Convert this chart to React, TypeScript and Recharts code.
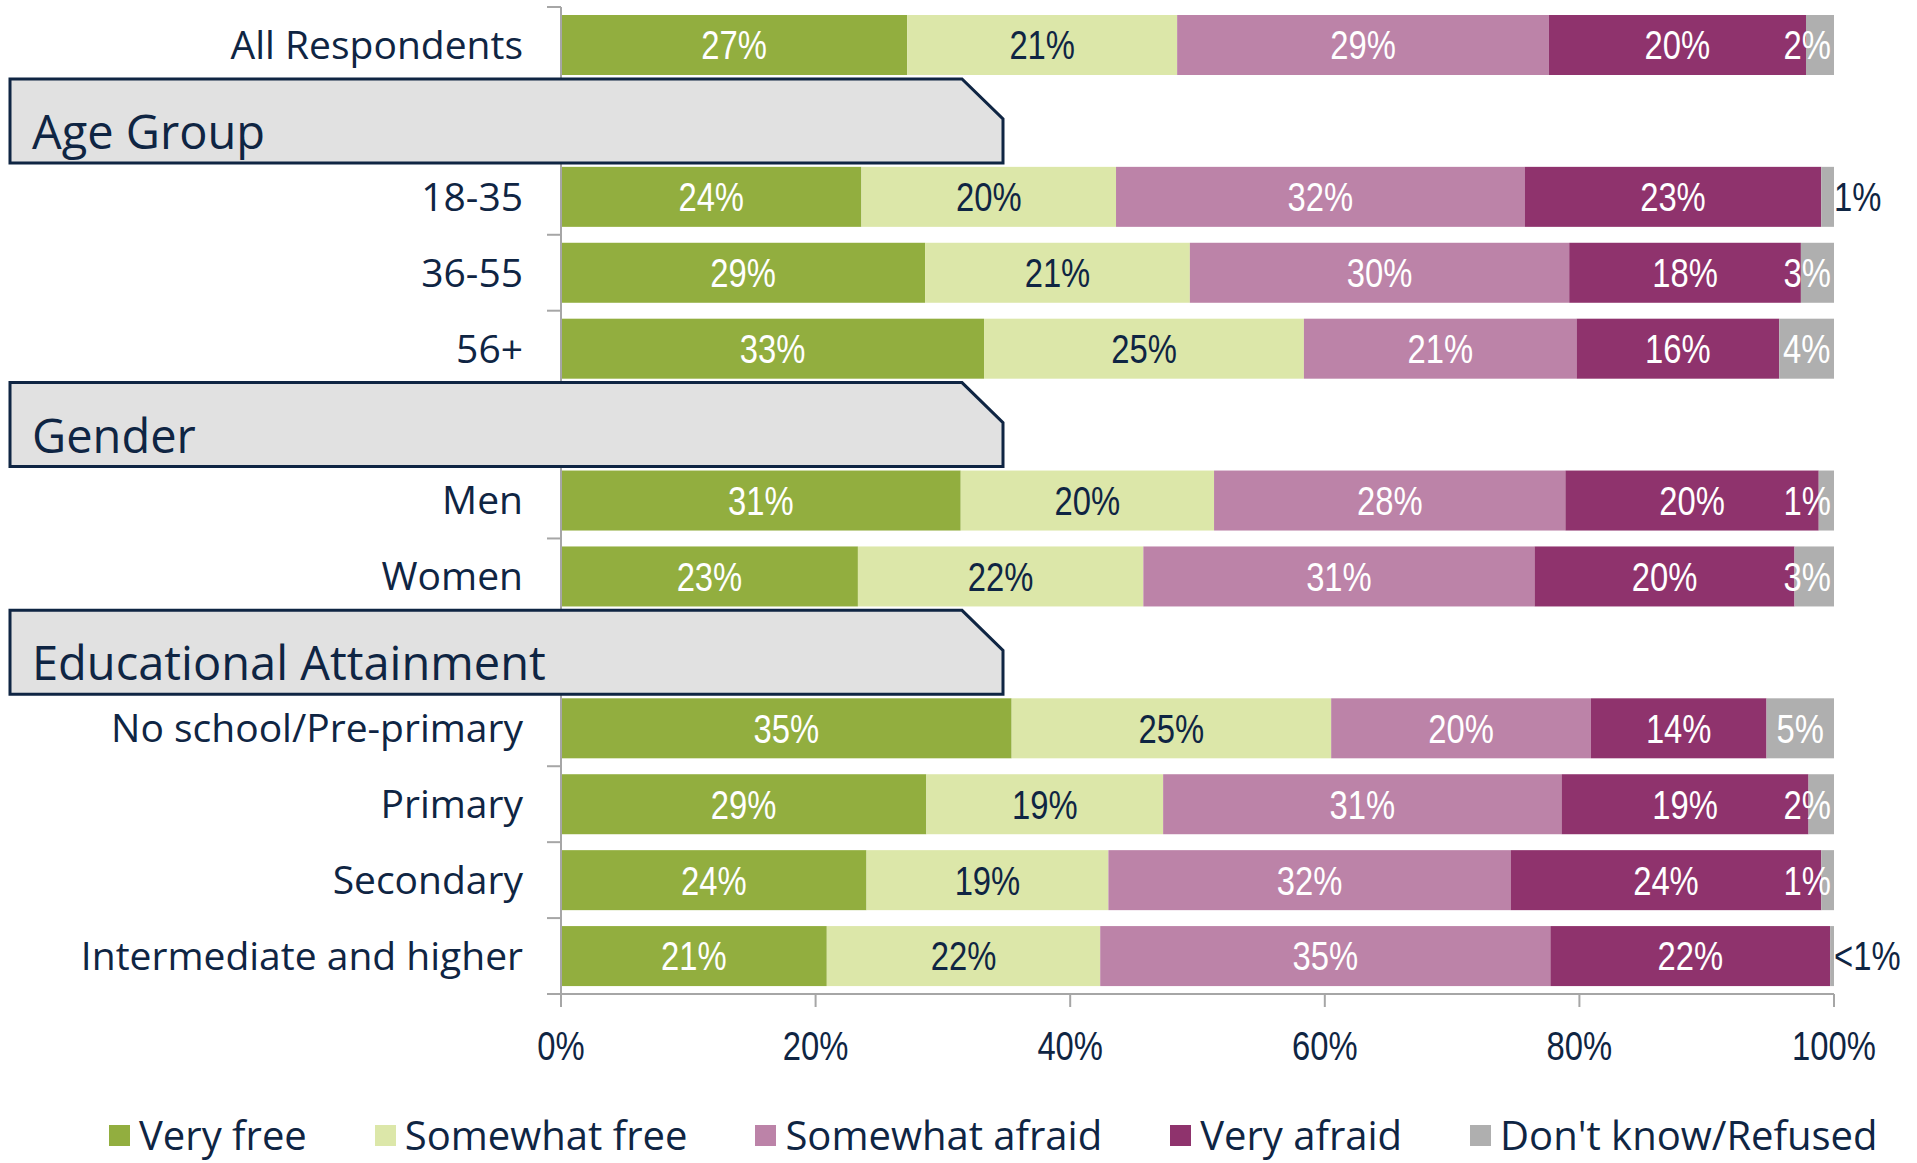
import React from 'react';
import { BarChart, Bar, XAxis, YAxis, Legend } from 'recharts';

const CATEGORIES = [
  'All Respondents',
  'Age Group',
  '18-35',
  '36-55',
  '56+',
  'Gender',
  'Men',
  'Women',
  'Educational Attainment',
  'No school/Pre-primary',
  'Primary',
  'Secondary',
  'Intermediate and higher',
];
const HEADERS = ['Age Group', 'Gender', 'Educational Attainment'];
const SERIES_NAMES = ['Very free', 'Somewhat free', 'Somewhat afraid', 'Very afraid', "Don't know/Refused"];
const VERY_FREE = [27.2, null, 23.6, 28.6, 33.2, null, 31.4, 23.3, null, 35.4, 28.7, 24.0, 20.9];
const SOMEWHAT_FREE = [21.2, null, 20.0, 20.8, 25.1, null, 19.9, 22.4, null, 25.1, 18.6, 19.0, 21.5];
const SOMEWHAT_AFRAID = [29.2, null, 32.1, 29.8, 21.4, null, 27.6, 30.7, null, 20.4, 31.3, 31.6, 35.4];
const VERY_AFRAID = [20.2, null, 23.3, 18.2, 15.9, null, 19.9, 20.4, null, 13.8, 19.4, 24.4, 22.0];
const DONT_KNOW = [2.2, null, 1.0, 2.6, 4.3, null, 1.2, 3.1, null, 5.3, 2.0, 1.0, 0.3];
const X_TICKS = [0, 0.2, 0.4, 0.6, 0.8, 1];
const OUTSIDE_LABEL_ROWS = ['18-35', 'Intermediate and higher'];

const KEYS = ['vf', 'sf', 'sa', 'va', 'dk'];
const SERIES_VALUES = [VERY_FREE, SOMEWHAT_FREE, SOMEWHAT_AFRAID, VERY_AFRAID, DONT_KNOW];

const data = CATEGORIES.map((name, i) => {
  const row: any = { name };
  KEYS.forEach((k, s) => {
    row[k] = SERIES_VALUES[s][i];
  });
  return row;
});

const NAVY = '#0F2543';
const COLORS = ['#92AE3F', '#DCE7A9', '#BC83A8', '#8F336D', '#AFAFAF'];
const LABEL_COLORS = ['#FFFFFF', NAVY, '#FFFFFF', '#FFFFFF', '#FFFFFF'];
const AXIS_COLOR = '#A6A6A6';
const SANS = "'Open Sans', 'Liberation Sans', sans-serif";
const NUM_FONT = "'Liberation Sans', Arial, sans-serif";
const NARROW_SCALE = 0.82;

const W = 1917;
const H = 1163;
const PLOT_TOP = 7;
const PLOT_BOTTOM = 994;
const AXIS_X = 561;
const PLOT_RIGHT = 1834;
const X_AXIS_H = 60;
const BAND = (PLOT_BOTTOM - PLOT_TOP) / CATEGORIES.length;

const fmtPct = (v: number) => (v < 1 ? '<1%' : `${Math.round(v)}%`);

const estWidth = (s: string, fs: number) => {
  let w = 0;
  for (const ch of s) {
    if (ch === '%') w += 0.889;
    else if (ch === '<') w += 0.584;
    else w += 0.556;
  }
  return w * fs * NARROW_SCALE;
};

const NarrowText = ({ x, y, anchor, fill, fs, children, dy }: any) => (
  <text
    transform={`translate(${x},${y}) scale(${NARROW_SCALE},1)`}
    x={0}
    y={0}
    dy={dy}
    textAnchor={anchor}
    fill={fill}
    fontSize={fs}
    fontFamily={NUM_FONT}
  >
    {children}
  </text>
);

const makeShape = (si: number) => (props: any) => {
  const { x, y, width, height, payload } = props;
  const v = payload ? payload[KEYS[si]] : null;
  if (v == null || !(width > 0) || !(height > 0)) return <g />;
  const cx = x + width / 2;
  const cy = y + height / 2;
  const label = fmtPct(v);
  const fs = 40;
  let tx = cx;
  let anchor: any = 'middle';
  let fill = LABEL_COLORS[si];
  const isLast = si === KEYS.length - 1;
  const outside = isLast && OUTSIDE_LABEL_ROWS.includes(payload.name);
  if (outside) {
    tx = x + width;
    anchor = 'start';
    fill = NAVY;
  } else if (isLast) {
    const lw = estWidth(label, fs);
    const limit = x + width - 3;
    if (cx + lw / 2 > limit) {
      tx = limit;
      anchor = 'end';
    }
  }
  return (
    <g>
      <rect x={x} y={y} width={width} height={height} fill={COLORS[si]} />
      <NarrowText x={tx} y={cy} dy="0.36em" anchor={anchor} fill={fill} fs={fs}>
        {label}
      </NarrowText>
    </g>
  );
};

const PercentTick = (props: any) => {
  const { x, y, payload } = props;
  return (
    <NarrowText x={x} y={y} dy="0.71em" anchor="middle" fill={NAVY} fs={40}>
      {`${Math.round(payload.value * 100)}%`}
    </NarrowText>
  );
};

const CategoryTick = (props: any) => {
  const { y, payload } = props;
  const name = payload.value;
  if (HEADERS.includes(name)) {
    const top = y - 42;
    const bot = y + 42;
    const pts = `10,${top} 962,${top} 1003,${top + 40} 1003,${bot} 10,${bot}`;
    return (
      <g>
        <polygon points={pts} fill="#E1E1E1" stroke={NAVY} strokeWidth={3} strokeLinejoin="miter" />
        <text x={32} y={y + 28} fontSize={47} fill={NAVY} fontFamily={SANS}>
          {name}
        </text>
      </g>
    );
  }
  const i = CATEGORIES.indexOf(name);
  const prevHeader = i > 0 && HEADERS.includes(CATEGORIES[i - 1]);
  const last = i === CATEGORIES.length - 1;
  return (
    <g>
      {!prevHeader && (
        <line x1={AXIS_X - 14} x2={AXIS_X} y1={y - BAND / 2} y2={y - BAND / 2} stroke={AXIS_COLOR} strokeWidth={2} />
      )}
      {last && (
        <line x1={AXIS_X - 14} x2={AXIS_X} y1={y + BAND / 2} y2={y + BAND / 2} stroke={AXIS_COLOR} strokeWidth={2} />
      )}
      <text x={AXIS_X - 38} y={y} dy="0.356em" textAnchor="end" fontSize={39} fill={NAVY} fontFamily={SANS}>
        {name}
      </text>
    </g>
  );
};

const renderLegend = () => (
  <div
    style={{
      display: 'flex',
      alignItems: 'center',
      paddingLeft: 109,
      gap: 68,
      height: 56,
      fontFamily: SANS,
      fontSize: 40,
      color: NAVY,
      whiteSpace: 'nowrap',
    }}
  >
    {SERIES_NAMES.map((n, i) => (
      <div key={n} style={{ display: 'flex', alignItems: 'center' }}>
        <span style={{ display: 'inline-block', width: 21, height: 21, background: COLORS[i], marginRight: 9 }} />
        <span style={{ lineHeight: '56px' }}>{n}</span>
      </div>
    ))}
  </div>
);

export default function App() {
  return (
    <div style={{ position: 'absolute', left: 0, top: 0, width: W, height: H, background: '#FFFFFF', overflow: 'hidden' }}>
      <BarChart
        width={W}
        height={H}
        data={data}
        layout="vertical"
        stackOffset="expand"
        barSize={60}
        margin={{ top: PLOT_TOP, right: W - PLOT_RIGHT, left: 0, bottom: H - PLOT_BOTTOM - X_AXIS_H }}
      >
        <XAxis
          type="number"
          domain={[0, 1]}
          ticks={X_TICKS}
          height={X_AXIS_H}
          tickSize={13}
          tickMargin={25}
          axisLine={{ stroke: AXIS_COLOR, strokeWidth: 2 }}
          tickLine={{ stroke: AXIS_COLOR, strokeWidth: 2 }}
          tick={<PercentTick />}
          interval={0}
        />
        <YAxis
          type="category"
          dataKey="name"
          width={AXIS_X}
          interval={0}
          axisLine={{ stroke: AXIS_COLOR, strokeWidth: 2 }}
          tickLine={false}
          tick={<CategoryTick />}
        />
        <Legend
          layout="horizontal"
          verticalAlign="middle"
          align="center"
          content={renderLegend}
          wrapperStyle={{ top: 1107, left: 0, width: W, height: 56 }}
        />
        {KEYS.map((k, si) => (
          <Bar
            key={k}
            dataKey={k}
            name={SERIES_NAMES[si]}
            stackId="a"
            fill={COLORS[si]}
            isAnimationActive={false}
            shape={makeShape(si)}
          />
        ))}
      </BarChart>
    </div>
  );
}
